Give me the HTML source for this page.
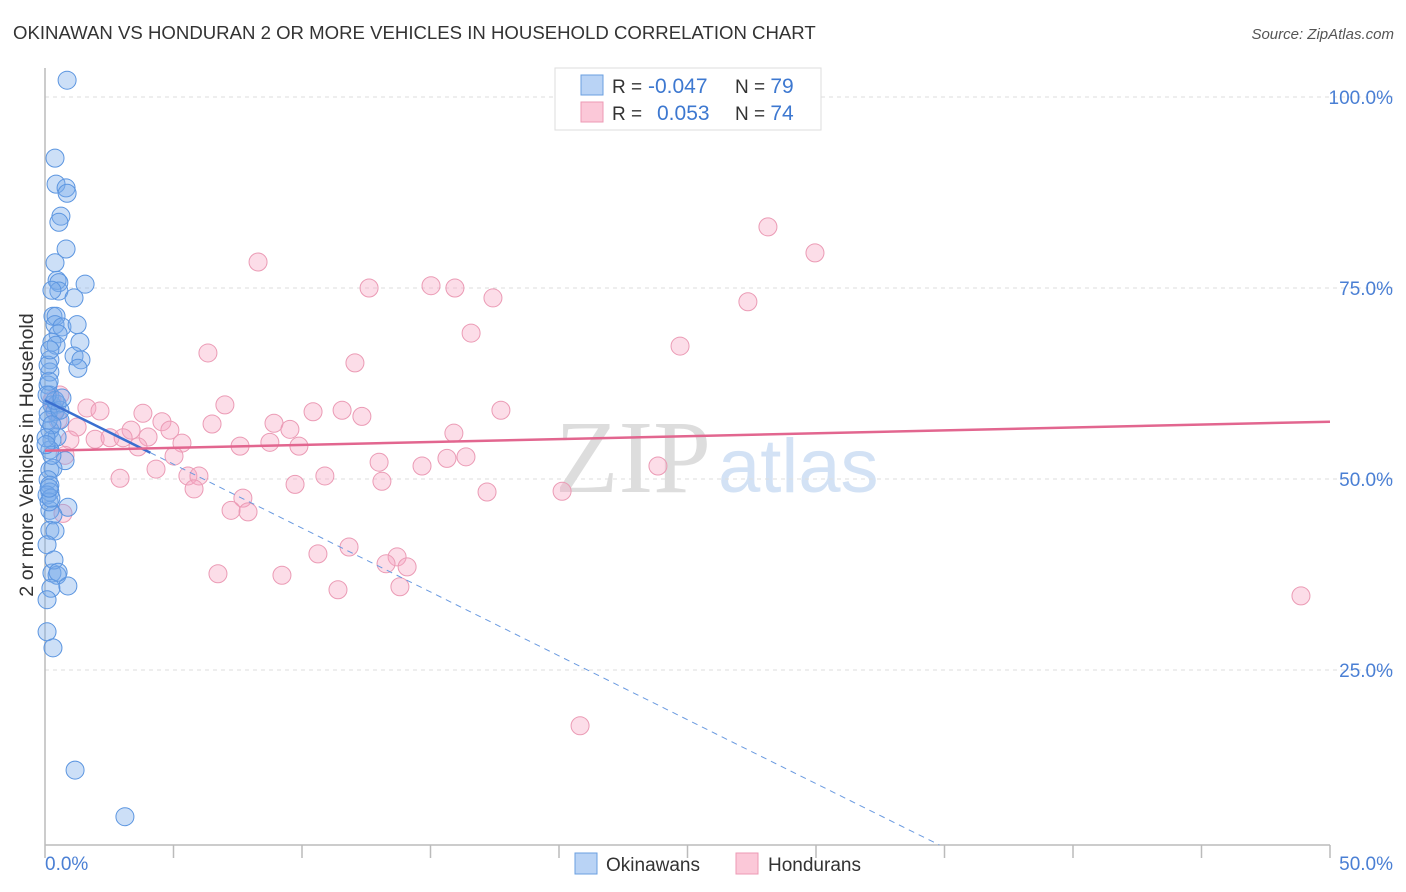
<!DOCTYPE html>
<html><head><meta charset="utf-8"><style>
body{margin:0;background:#fff;font-family:"Liberation Sans",sans-serif}
svg{display:block}
</style></head><body>
<svg id="chart" width="1406" height="892" viewBox="0 0 1406 892">
<text x="13" y="39" font-size="18.6" fill="#333">OKINAWAN VS HONDURAN 2 OR MORE VEHICLES IN HOUSEHOLD CORRELATION CHART</text>
<text x="1394" y="39" font-size="15" fill="#555" font-style="italic" text-anchor="end">Source: ZipAtlas.com</text>
<g>
<text x="555" y="492" font-size="104" font-family="Liberation Serif,serif" fill="#ddd">ZIP</text>
<text x="718" y="492" font-size="76" fill="#d3e2f5">atlas</text>
</g>
<g id="grid"></g>
<g id="axes"></g>
<g id="pts"></g>
<g id="trend"></g>
<text transform="translate(33,455) rotate(-90)" font-size="19.7" fill="#333" text-anchor="middle">2 or more Vehicles in Household</text>
<g>
<rect x="555" y="68" width="266" height="62" fill="#fff" stroke="#ddd"/>
<rect x="581" y="75" width="22" height="20" fill="#b9d3f5" stroke="#6a9fe0"/>
<rect x="581" y="102" width="22" height="20" fill="#fbc8d8" stroke="#ec9ab4"/>
<text x="612" y="93" font-size="19" fill="#333">R = <tspan x="648" fill="#3d78d0" font-size="21">-0.047</tspan><tspan x="735">N = </tspan><tspan fill="#3d78d0" font-size="21">79</tspan></text>
<text x="612" y="120" font-size="19" fill="#333">R = <tspan x="657" fill="#3d78d0" font-size="21">0.053</tspan><tspan x="735">N = </tspan><tspan fill="#3d78d0" font-size="21">74</tspan></text>
</g>
<g>
<rect x="575" y="853" width="22" height="21" fill="#b9d3f5" stroke="#6a9fe0"/>
<text x="606" y="871" font-size="19" fill="#333">Okinawans</text>
<rect x="736" y="853" width="22" height="21" fill="#fbc8d8" stroke="#ec9ab4"/>
<text x="768" y="871" font-size="19" fill="#333">Hondurans</text>
</g>
</svg>
<script>
const blueX=[.86,.39,.43,.82,.86,.62,.54,.82,.39,.47,.54,.54,1.13,1.56,.31,.43,.39,.66,1.25,.51,1.36,.27,.43,1.13,1.40,1.28,.19,.19,.12,.19,.16,.27,.47,.39,.58,.19,.27,.47,.78,.19,.31,.12,.19,.19,.08,.19,.89,.31,.19,.39,.27,.47,.23,.89,.08,.31,1.17,3.11,.12,.19,.12,.27,.16,.08,.58,.39,.08,.27,.04,.23,.16,.35,.51,.08,.66,.12,.19,.27,.04];
const blueY=[102.2,92.0,88.6,88.1,87.4,84.4,83.6,80.1,78.3,76.0,75.7,74.6,73.7,75.5,71.3,71.3,70.2,69.9,70.2,69.0,67.9,67.9,67.5,66.1,65.6,64.5,65.6,64.0,62.3,61.0,62.8,59.7,59.8,58.8,57.7,56.4,55.1,55.5,52.4,51.2,51.4,49.9,49.2,48.3,47.9,45.9,46.3,45.3,43.3,43.2,37.7,37.4,35.7,36.0,30.0,27.9,11.9,5.8,58.6,53.8,57.7,53.1,47.0,41.4,59.0,60.3,61.0,57.1,55.4,47.5,48.8,39.4,37.8,34.2,60.6,64.9,66.9,74.7,54.5];
const pinkX=[28.13,29.96,8.29,12.61,15.02,15.95,17.43,27.35,6.34,16.58,24.71,12.06,7.00,10.43,11.56,12.33,17.74,1.63,2.14,3.81,4.55,4.86,3.35,6.50,8.91,9.53,8.75,9.88,7.59,15.91,1.25,1.95,2.53,3.04,4.01,5.33,3.62,5.02,4.32,5.56,5.99,5.80,2.92,10.89,13.00,14.67,15.64,16.38,23.85,13.11,9.73,17.20,20.12,7.70,7.24,7.90,.70,10.62,11.83,13.70,13.27,14.09,6.73,9.22,11.40,13.81,48.87,20.82,.27,.51,.58,.39,.97,.78];
const pinkY=[83.0,79.6,78.4,75.0,75.3,75.0,73.7,73.2,66.5,69.1,67.4,65.2,59.7,58.8,59.0,58.2,59.0,59.3,58.9,58.6,57.5,56.4,56.4,57.2,57.3,56.5,54.8,54.3,54.3,56.0,56.8,55.2,55.4,55.4,55.5,54.7,54.2,53.0,51.3,50.4,50.4,48.7,50.1,50.4,52.2,51.7,52.7,52.9,51.7,49.7,49.3,48.3,48.4,47.5,45.9,45.7,45.5,40.2,41.1,39.8,38.9,38.5,37.6,37.4,35.5,35.9,34.7,17.7,60.3,57.7,61.0,59.0,55.1,53.1];
const yTicks=[100,75,50,25];
const yTickLabels=["100.0%","75.0%","50.0%","25.0%"];
const xTickLabels=["0.0%","50.0%"];
const blueTrend=[60.3,2.1];
const blueTrendEnd=34.8;
const blueSolidEnd=4.1;
const pinkTrend=[53.7,57.5];
const NS="http://www.w3.org/2000/svg";
const sx=v=>45+v*25.7, sy=v=>861-v*7.64;
function mk(tag,attrs,parent){const e=document.createElementNS(NS,tag);for(const k in attrs)e.setAttribute(k,attrs[k]);parent.appendChild(e);return e;}
const grid=document.getElementById('grid'),axes=document.getElementById('axes'),pts=document.getElementById('pts'),trend=document.getElementById('trend');
yTicks.forEach((t,i)=>{
 const l=mk('line',{x1:45,x2:1395,y1:sy(t),y2:sy(t),stroke:'#ddd','stroke-dasharray':'4,4'},grid);
 
 
 const tx=mk('text',{x:1393,y:sy(t)+7,'font-size':19,fill:'#4a7fd4','text-anchor':'end'},axes);
 tx.textContent=yTickLabels[i];
 
 
});
let a=mk('line',{x1:45,x2:45,y1:68,y2:845,stroke:'#bbb','stroke-width':1.5},axes);


a=mk('line',{x1:45,x2:1330,y1:845,y2:845,stroke:'#bbb','stroke-width':1.5},axes);


for(let i=0;i<=10;i++){
 const t=mk('line',{x1:sx(i*5),x2:sx(i*5),y1:845,y2:858,stroke:'#bbb','stroke-width':1.5},axes);
 
 
}
let xl=mk('text',{x:45,y:870,'font-size':19,fill:'#4a7fd4'},axes);xl.textContent=xTickLabels[0];


xl=mk('text',{x:1393,y:870,'font-size':19,fill:'#4a7fd4','text-anchor':'end'},axes);xl.textContent=xTickLabels[1];


pinkX.forEach((x,i)=>{
 const c=mk('circle',{cx:sx(x),cy:sy(pinkY[i]),r:9,fill:'rgba(246,165,194,0.38)',stroke:'#eb9bb5','stroke-width':1},pts);
 
 
});
blueX.forEach((x,i)=>{
 const c=mk('circle',{cx:sx(x),cy:sy(blueY[i]),r:9,fill:'rgba(120,170,235,0.38)',stroke:'#5b95e0','stroke-width':1},pts);
 
 
});
const bAt=x=>blueTrend[0]+(blueTrend[1]-blueTrend[0])*x/blueTrendEnd;
let t=mk('line',{x1:sx(blueSolidEnd),y1:sy(bAt(blueSolidEnd)),x2:sx(blueTrendEnd),y2:sy(blueTrend[1]),stroke:'#6a9ae0','stroke-width':1,'stroke-dasharray':'6,5'},trend);


t=mk('line',{x1:sx(0),y1:sy(blueTrend[0]),x2:sx(blueSolidEnd),y2:sy(bAt(blueSolidEnd)),stroke:'#3a6fd0','stroke-width':2.5},trend);


t=mk('line',{x1:sx(0),y1:sy(pinkTrend[0]),x2:sx(50),y2:sy(pinkTrend[1]),stroke:'#e2668f','stroke-width':2.5},trend);


</script>
</body></html>
